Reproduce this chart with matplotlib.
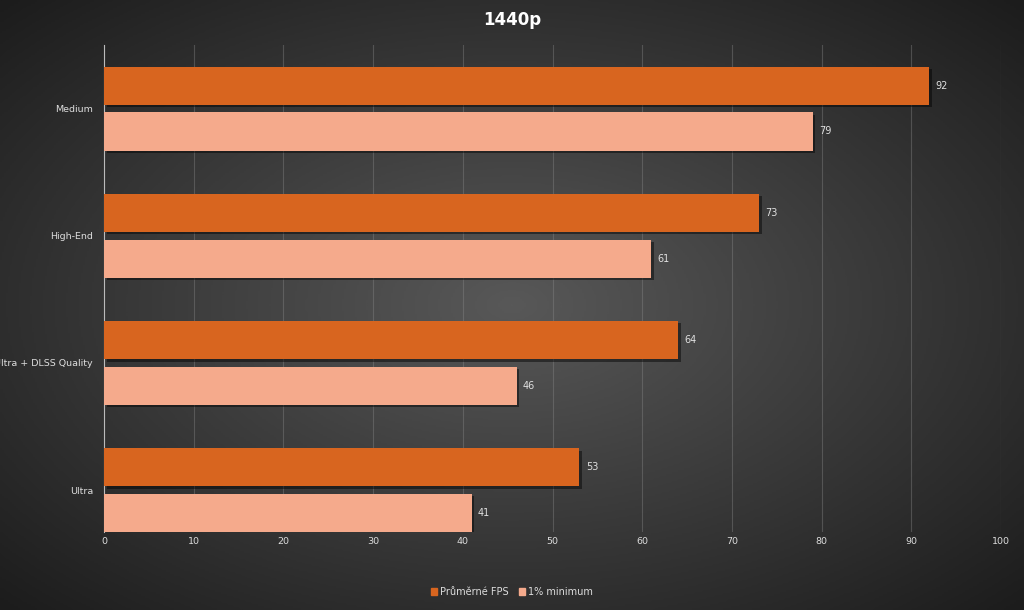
import numpy as np
import matplotlib.pyplot as plt
from matplotlib.patches import Patch
from matplotlib.colors import LinearSegmentedColormap

categories = ["Ultra", "Ultra + DLSS Quality", "High-End", "Medium"]
avg_fps = [53, 64, 73, 92]
min_fps = [41, 46, 61, 79]
series_names = ["Průměrné FPS", "1% minimum"]

dark_col = "#d8651f"
light_col = "#f5aa8c"

fig = plt.figure(figsize=(10.24, 6.10), dpi=100)

# radial gradient background
bg = fig.add_axes([0, 0, 1, 1], zorder=-10)
yy, xx = np.mgrid[-1:1:300j, -1:1:500j]
r = np.sqrt(xx**2 + yy**2)
cm = LinearSegmentedColormap.from_list("bg", ["#585858", "#1c1c1c"])
bg.imshow(r, cmap=cm, vmin=0, vmax=1.414, aspect="auto", extent=[0, 1, 0, 1])
bg.axis("off")

ax = fig.add_axes([104/1024, 1-532/610, (1001-104)/1024, (532-45)/610])
ax.patch.set_alpha(0)

y = np.arange(len(categories))
h = 0.30
off = 0.18
# shadows
ax.barh(y + off - 0.02, avg_fps, height=h, left=0.3, color="black", alpha=0.45, zorder=2)
ax.barh(y - off - 0.02, min_fps, height=h, left=0.3, color="black", alpha=0.45, zorder=2)
ax.barh(y + off, avg_fps, height=h, color=dark_col, zorder=3)
ax.barh(y - off, min_fps, height=h, color=light_col, zorder=3)

for yi, a, m in zip(y, avg_fps, min_fps):
    ax.text(a + 0.7, yi + off, str(a), va="center", ha="left", color="#e0e0e0", fontsize=7)
    ax.text(m + 0.7, yi - off, str(m), va="center", ha="left", color="#e0e0e0", fontsize=7)

ax.set_xlim(0, 100)
ax.set_ylim(-0.33, 3.5)
ax.set_xticks(range(0, 101, 10))
ax.set_yticks(y)
ax.set_yticklabels(categories)
ax.tick_params(colors="#dddddd", labelsize=6.8, length=0)
ax.tick_params(axis="y", pad=8)
ax.grid(axis="x", color="#888888", alpha=0.4, linewidth=0.8, zorder=0)
for s in ["top", "right", "bottom"]:
    ax.spines[s].set_visible(False)
ax.spines["left"].set_color("#bbbbbb")

fig.text(0.5, 1-20/610, "1440p", ha="center", va="center", color="white",
         fontsize=12, fontweight="bold")

handles = [Patch(color=dark_col), Patch(color=light_col)]
fig.legend(handles, series_names, loc="center", bbox_to_anchor=(0.5, 1-592/610), ncol=2,
           frameon=False, fontsize=7, labelcolor="#dddddd", handlelength=0.6,
           handleheight=0.6, handletextpad=0.4, columnspacing=1.0)

fig.savefig("out.png", dpi=100)
